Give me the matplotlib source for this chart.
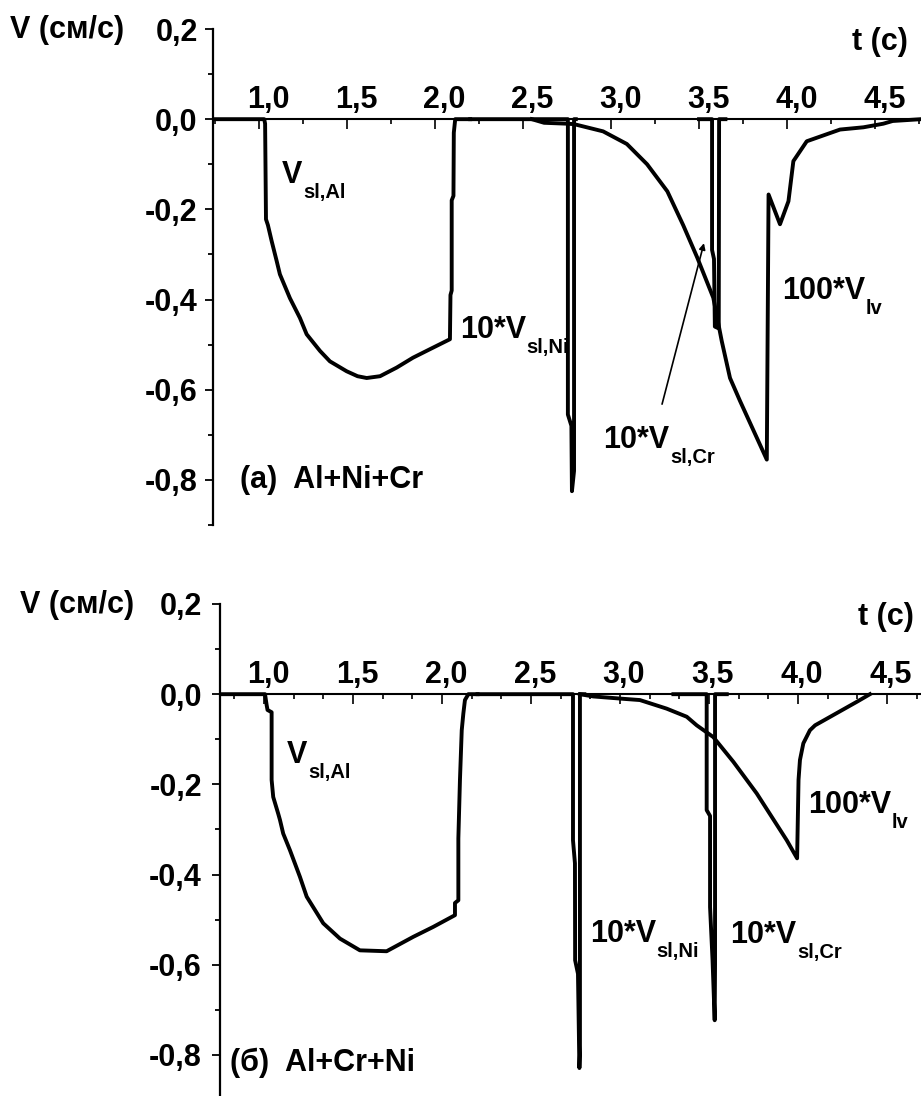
import matplotlib
matplotlib.use('Agg')
import matplotlib.pyplot as plt
from matplotlib.ticker import FixedLocator, MultipleLocator, FuncFormatter
from matplotlib.transforms import ScaledTranslation

plt.rcParams['font.family'] = ['Liberation Sans', 'DejaVu Sans']
plt.rcParams['font.weight'] = 'bold'

# ---------------- data: panel (a) Al+Ni+Cr ----------------
top_al_t = [0.739, 1.030, 1.035, 1.040, 1.051, 1.072, 1.101, 1.119, 1.176, 1.233, 1.271, 1.347,
            1.403, 1.498, 1.560, 1.612, 1.688, 1.782, 1.875, 1.972, 2.085, 2.088, 2.095, 2.095,
            2.105, 2.107, 2.115, 2.200]
top_al_v = [0, 0, -0.01, -0.222, -0.235, -0.270, -0.315, -0.344, -0.397, -0.441, -0.477, -0.514,
            -0.537, -0.559, -0.570, -0.574, -0.570, -0.551, -0.529, -0.510, -0.488, -0.39, -0.38, -0.18,
            -0.17, -0.03, 0, 0]
top_ni_t = [2.20, 2.755, 2.755, 2.775, 2.778, 2.790, 2.790, 2.80]
top_ni_v = [0, 0, -0.655, -0.68, -0.825, -0.78, 0, 0]
top_cr_t = [3.50, 3.574, 3.574, 3.585, 3.590, 3.612, 3.614, 3.65]
top_cr_v = [0, 0, -0.29, -0.31, -0.46, -0.464, 0, 0]
top_lv_t = [2.55, 2.62, 2.75, 2.79, 2.955, 3.09, 3.205, 3.32, 3.41, 3.49, 3.581, 3.629, 3.676,
            3.733, 3.885, 3.895, 3.960, 4.008, 4.036, 4.112, 4.301, 4.434, 4.547, 4.60, 4.761]
top_lv_v = [0, -0.008, -0.010, -0.011, -0.027, -0.055, -0.100, -0.160, -0.235, -0.307, -0.396,
            -0.492, -0.574, -0.625, -0.755, -0.167, -0.233, -0.182, -0.093, -0.049, -0.023, -0.018,
            -0.010, -0.004, 0]

# ---------------- data: panel (б) Al+Cr+Ni ----------------
bot_al_t = [0.753, 1.006, 1.015, 1.020, 1.043, 1.043, 1.052, 1.080, 1.090, 1.108, 1.146, 1.202,
            1.240, 1.333, 1.427, 1.539, 1.689, 1.839, 1.951, 2.073, 2.073, 2.092, 2.092, 2.101,
            2.111, 2.120, 2.129, 2.148, 2.200]
bot_al_v = [0, 0, -0.024, -0.035, -0.04, -0.19, -0.228, -0.265, -0.279, -0.309, -0.346, -0.405,
            -0.449, -0.508, -0.542, -0.568, -0.570, -0.538, -0.516, -0.490, -0.463, -0.457, -0.32,
            -0.19, -0.08, -0.043, -0.013, 0, 0]
bot_ni_t = [2.20, 2.736, 2.736, 2.747, 2.748, 2.764, 2.772, 2.775, 2.775, 2.80]
bot_ni_v = [0, 0, -0.324, -0.375, -0.59, -0.62, -0.829, -0.80, 0, 0]
bot_cr_t = [3.30, 3.487, 3.487, 3.506, 3.506, 3.520, 3.532, 3.534, 3.534, 3.60]
bot_cr_v = [0, 0, -0.257, -0.27, -0.472, -0.59, -0.723, -0.60, 0, 0]
bot_lv_t = [2.775, 2.85, 3.010, 3.112, 3.262, 3.375, 3.431, 3.524, 3.637, 3.768, 3.937, 3.995,
            4.003, 4.011, 4.030, 4.067, 4.096, 4.330, 4.404]
bot_lv_v = [0, -0.005, -0.010, -0.013, -0.032, -0.050, -0.069, -0.095, -0.150, -0.220, -0.324,
            -0.364, -0.190, -0.146, -0.109, -0.080, -0.069, -0.017, 0]

x_major = [1.0, 1.5, 2.0, 2.5, 3.0, 3.5, 4.0, 4.5]
y_major = [0.2, 0.0, -0.2, -0.4, -0.6, -0.8]

FS = 22
SUB_FS = 14.5
LW = 2.8

W, H = 921, 1096
fig = plt.figure(figsize=(W / 100, H / 100), dpi=100)


def fmt(v, pos=None):
    s = f"{v:.1f}".replace('.', ',')
    return "0,0" if s == "-0,0" else s


def setup(ax, xlim, ylim, xminor, label_dx, ypad):
    ax.set_xlim(*xlim)
    ax.set_ylim(*ylim)
    for s in ('bottom', 'right'):
        ax.spines[s].set_visible(False)
    ax.spines['top'].set_position(('data', 0))
    ax.spines['top'].set_linewidth(1.5)
    ax.spines['left'].set_linewidth(1.6)
    ax.xaxis.tick_top()
    ax.xaxis.set_major_locator(FixedLocator(x_major))
    ax.xaxis.set_minor_locator(MultipleLocator(xminor))
    ax.xaxis.set_major_formatter(FuncFormatter(fmt))
    ax.yaxis.set_major_locator(FixedLocator(y_major))
    ax.yaxis.set_minor_locator(MultipleLocator(0.1))
    ax.yaxis.set_major_formatter(FuncFormatter(fmt))
    ax.tick_params(axis='x', which='both', direction='in', width=1.2, labelsize=FS, pad=3)
    ax.tick_params(axis='x', which='major', length=7)
    ax.tick_params(axis='x', which='minor', length=3.5)
    ax.tick_params(axis='y', which='both', direction='out', width=1.3, labelsize=FS, pad=ypad)
    ax.tick_params(axis='y', which='major', length=6)
    ax.tick_params(axis='y', which='minor', length=3.5)
    off = ScaledTranslation(label_dx / 100, 0, fig.dpi_scale_trans)
    for lab in ax.get_xticklabels():
        lab.set_transform(lab.get_transform() + off)
        lab.set_fontweight('bold')
    for lab in ax.get_yticklabels():
        lab.set_fontweight('bold')
    ax.patch.set_visible(False)


def label(ax, x, y, main, sub=None):
    t = ax.text(x, y, main, fontsize=FS, fontweight='bold', ha='left', va='baseline', zorder=1)
    if sub:
        ax.annotate(sub, xy=(1, 0), xycoords=t, xytext=(0.5, -5.5), textcoords='offset points',
                    fontsize=SUB_FS, fontweight='bold', ha='left', va='baseline', zorder=1)


# ---------- top panel ----------
ax1 = fig.add_axes([213 / W, (H - 525) / H, 708 / W, 496 / H])
setup(ax1, (0.739, 4.761), (-0.9, 0.2), 0.25, 9.5, 5)
for tt, vv in ((top_al_t, top_al_v), (top_ni_t, top_ni_v), (top_cr_t, top_cr_v), (top_lv_t, top_lv_v)):
    ax1.plot(tt, vv, color='black', lw=LW, zorder=3)
label(ax1, 1.131, -0.142, 'V', 'sl,Al')
label(ax1, 2.142, -0.486, '10*V', 'sl,Ni')
label(ax1, 3.97, -0.399, '100*V', 'lv')
label(ax1, 2.955, -0.729, '10*V', 'sl,Cr')
ax1.text(0.892, -0.818, '(а)  Al+Ni+Cr', fontsize=FS, fontweight='bold', ha='left', va='baseline')
ax1.annotate('', xy=(3.528, -0.275), xytext=(3.29, -0.632),
             arrowprops=dict(arrowstyle='-|>', lw=1.2, color='black', mutation_scale=9,
                             shrinkA=0, shrinkB=0))
fig.text(10 / W, (H - 38) / H, 'V (см/с)', fontsize=FS, fontweight='bold', ha='left', va='baseline')
fig.text(852 / W, (H - 50) / H, 't (c)', fontsize=FS, fontweight='bold', ha='left', va='baseline')

# ---------- bottom panel ----------
ax2 = fig.add_axes([220 / W, 0, 701 / W, 492 / H])
setup(ax2, (0.753, 4.691), (-0.891, 0.2), 0.5 / 3, 4, 7)
for tt, vv in ((bot_al_t, bot_al_v), (bot_ni_t, bot_ni_v), (bot_cr_t, bot_cr_v), (bot_lv_t, bot_lv_v)):
    ax2.plot(tt, vv, color='black', lw=LW, zorder=3)
label(ax2, 1.129, -0.153, 'V', 'sl,Al')
label(ax2, 2.831, -0.550, '10*V', 'sl,Ni')
label(ax2, 3.618, -0.552, '10*V', 'sl,Cr')
label(ax2, 4.056, -0.264, '100*V', 'lv')
ax2.text(0.809, -0.836, '(б)  Al+Cr+Ni', fontsize=FS, fontweight='bold', ha='left', va='baseline')
fig.text(20 / W, (H - 613) / H, 'V (см/с)', fontsize=FS, fontweight='bold', ha='left', va='baseline')
fig.text(858 / W, (H - 625) / H, 't (c)', fontsize=FS, fontweight='bold', ha='left', va='baseline')

fig.savefig('out.png', dpi=100)
